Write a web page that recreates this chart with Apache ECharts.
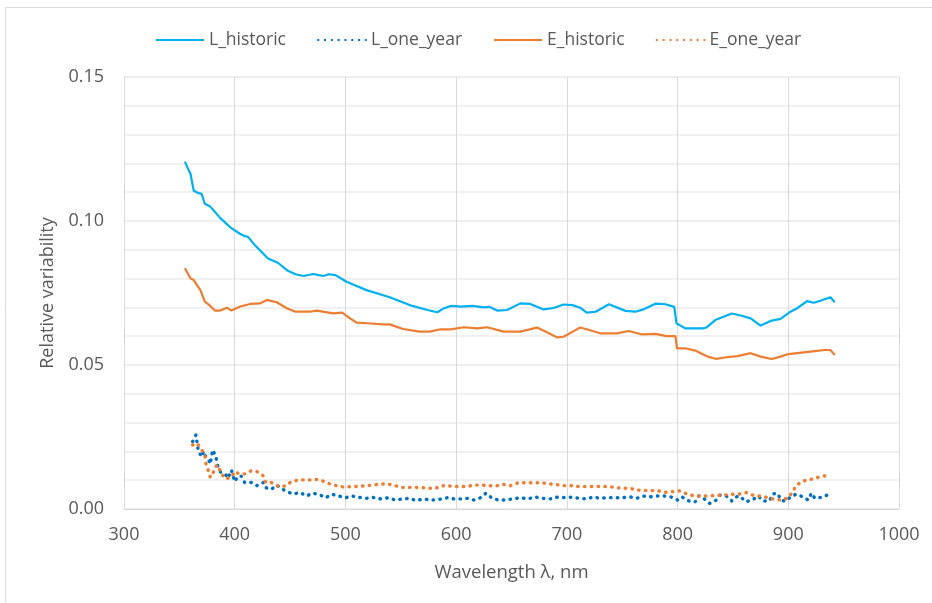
<!DOCTYPE html>
<html>
<head>
<meta charset="utf-8">
<script src="https://cdn.jsdelivr.net/npm/echarts@6/dist/echarts.min.js"></script>
<style>
  html, body { margin: 0; padding: 0; background: #fff; }
  #container { width: 932px; height: 603px; }
</style>
</head>
<body>
<div id="container"></div>
<script>
var seriesNames = ['L_historic', 'L_one_year', 'E_historic', 'E_one_year'];

// L_historic
var lHistWl = [355, 358, 360, 363, 367, 370, 373, 378, 387, 397, 405, 409, 412, 418, 425, 430, 439, 448, 455, 462, 471, 476, 480, 485, 491, 501, 519, 540, 558, 575, 583, 588, 595, 605, 615, 625, 630, 637, 646, 658, 667, 679, 688, 697, 705, 712, 718, 726, 738, 753, 762, 769, 780, 789, 797, 799, 807, 816, 823, 826, 834, 849, 857, 866, 875, 884, 893, 902, 908, 917, 923, 929, 938, 942];
var lHistVal = [0.1206, 0.118, 0.1165, 0.1105, 0.1097, 0.1095, 0.106, 0.105, 0.101, 0.0975, 0.0955, 0.0948, 0.0945, 0.0917, 0.089, 0.087, 0.0855, 0.0827, 0.0815, 0.0809, 0.0816, 0.0812, 0.0809, 0.0815, 0.0812, 0.0789, 0.076, 0.0735, 0.0708, 0.069, 0.0683, 0.0695, 0.0705, 0.0703, 0.0705, 0.070, 0.0702, 0.0689, 0.0691, 0.0714, 0.0712, 0.0693, 0.0698, 0.071, 0.0708, 0.0699, 0.0682, 0.0685, 0.0711, 0.0688, 0.0685, 0.0693, 0.0713, 0.0711, 0.0702, 0.0645, 0.0627, 0.0627, 0.0627, 0.063, 0.0656, 0.0679, 0.0672, 0.0662, 0.0637, 0.0653, 0.066, 0.0685, 0.0697, 0.0722, 0.0716, 0.0723, 0.0735, 0.0718];

// L_one_year
var lYearWl = [362, 365, 367, 370, 372, 374, 376, 378, 380, 381, 383, 384, 386, 388, 392, 394, 397, 398, 400, 403, 406, 409, 415, 420, 426, 428, 433, 438, 442, 447, 453, 459, 465, 470, 476, 482, 488, 494, 500, 506, 513, 519, 525, 532, 539, 545, 552, 558, 564, 570, 578, 584, 592, 598, 604, 610, 616, 622, 627, 632, 638, 644, 651, 658, 665, 671, 678, 685, 691, 697, 704, 711, 718, 724, 730, 737, 743, 750, 757, 763, 769, 775, 781, 788, 794, 800, 804, 810, 816, 819, 823, 829, 835, 838, 844, 849, 853, 856, 862, 868, 873, 877, 883, 886, 890, 894, 898, 903, 908, 913, 918, 921, 924, 929, 935];
var lYearVal = [0.0234, 0.0257, 0.0205, 0.0181, 0.020, 0.018, 0.0175, 0.0156, 0.0205, 0.021, 0.0184, 0.0158, 0.0135, 0.0124, 0.0118, 0.0107, 0.0135, 0.0139, 0.0095, 0.0114, 0.0114, 0.0092, 0.0092, 0.0081, 0.0092, 0.0074, 0.0068, 0.0083, 0.0072, 0.006, 0.0052, 0.0057, 0.0045, 0.0055, 0.0051, 0.0039, 0.0051, 0.0045, 0.0039, 0.0045, 0.004, 0.0037, 0.004, 0.0035, 0.0039, 0.0031, 0.0035, 0.0037, 0.0029, 0.0035, 0.0031, 0.0033, 0.0039, 0.0035, 0.0035, 0.0037, 0.0031, 0.0039, 0.0055, 0.0039, 0.0031, 0.0031, 0.0035, 0.0039, 0.0035, 0.0042, 0.0037, 0.0035, 0.0041, 0.004, 0.0041, 0.0037, 0.0035, 0.0042, 0.0037, 0.004, 0.0039, 0.0039, 0.0042, 0.0037, 0.0045, 0.0042, 0.0045, 0.0045, 0.0042, 0.0031, 0.0042, 0.0028, 0.0025, 0.0046, 0.0039, 0.0019, 0.0031, 0.0048, 0.0045, 0.0028, 0.0042, 0.0045, 0.0025, 0.0033, 0.0045, 0.0028, 0.0028, 0.0052, 0.0055, 0.0029, 0.0028, 0.0045, 0.0052, 0.0042, 0.0031, 0.0055, 0.0037, 0.004, 0.0048];

// E_historic
var eHistWl = [355, 358, 360, 363, 369, 373, 378, 382, 387, 393, 397, 405, 414, 423, 429, 438, 447, 455, 468, 474, 489, 497, 503, 510, 520, 534, 540, 552, 567, 576, 586, 595, 607, 619, 628, 643, 658, 673, 683, 691, 697, 705, 712, 718, 730, 745, 756, 768, 780, 790, 798, 799.5, 807, 816, 826, 835, 844, 854, 866, 875, 885, 893, 900, 914, 926, 933, 938, 942];
var eHistVal = [0.0836, 0.0815, 0.0801, 0.0795, 0.076, 0.072, 0.0705, 0.0689, 0.0689, 0.0699, 0.0689, 0.0703, 0.0712, 0.0714, 0.0726, 0.0718, 0.0697, 0.0685, 0.0685, 0.0689, 0.0679, 0.0682, 0.0665, 0.0647, 0.0645, 0.0641, 0.0641, 0.0625, 0.0616, 0.0616, 0.0624, 0.0624, 0.0631, 0.0627, 0.0631, 0.0616, 0.0616, 0.063, 0.0612, 0.0596, 0.0598, 0.0615, 0.063, 0.0624, 0.061, 0.061, 0.0618, 0.0606, 0.0608, 0.06, 0.06, 0.0558, 0.0558, 0.055, 0.0531, 0.0521, 0.0527, 0.0531, 0.0541, 0.0529, 0.0521, 0.0529, 0.0538, 0.0544, 0.0549, 0.0552, 0.0552, 0.0535];

// E_one_year
var eYearWl = [362, 366, 370, 373, 374, 376, 378, 381, 382, 384, 386, 388, 392, 394, 397, 400, 403, 406, 409, 415, 420, 426, 428, 433, 440, 446, 451, 458, 463, 469, 475, 481, 486, 493, 500, 505, 511, 518, 525, 531, 538, 545, 551, 558, 564, 570, 577, 584, 590, 597, 604, 610, 616, 623, 630, 636, 643, 649, 656, 663, 670, 677, 683, 690, 697, 704, 710, 716, 723, 730, 737, 743, 750, 757, 763, 770, 776, 783, 789, 795, 802, 809, 816, 822, 829, 835, 841, 849, 856, 862, 868, 874, 881, 888, 894, 900, 904, 907, 913, 919, 926, 933, 938];
var eYearVal = [0.0222, 0.0228, 0.0207, 0.0188, 0.0158, 0.0135, 0.011, 0.013, 0.0141, 0.0153, 0.0141, 0.0122, 0.0104, 0.0107, 0.011, 0.013, 0.0124, 0.0122, 0.0122, 0.0133, 0.013, 0.0115, 0.0092, 0.0092, 0.0078, 0.008, 0.0095, 0.0101, 0.0101, 0.0101, 0.0103, 0.0095, 0.0087, 0.008, 0.0075, 0.0078, 0.0078, 0.0081, 0.0083, 0.0087, 0.0087, 0.0081, 0.0075, 0.0075, 0.0075, 0.0074, 0.0072, 0.0074, 0.0083, 0.0078, 0.0078, 0.0078, 0.0083, 0.0083, 0.0081, 0.008, 0.0085, 0.0081, 0.0091, 0.0091, 0.0091, 0.0091, 0.0088, 0.0085, 0.0081, 0.0081, 0.0078, 0.0078, 0.0078, 0.0078, 0.0078, 0.0075, 0.0072, 0.0072, 0.0066, 0.0064, 0.0064, 0.0063, 0.0058, 0.006, 0.0063, 0.0051, 0.0045, 0.0045, 0.0045, 0.0048, 0.0048, 0.0051, 0.0052, 0.0057, 0.0048, 0.0045, 0.004, 0.0033, 0.0031, 0.0039, 0.006, 0.0081, 0.0097, 0.0101, 0.0109, 0.0115, 0.0122];

var xTicks = [300, 400, 500, 600, 700, 800, 900, 1000];
var yTicks = [0.00, 0.05, 0.10, 0.15];

function pairs(xs, ys) {
    var out = [];
    for (var i = 0; i < xs.length; i++) {
        out.push([xs[i], ys[i]]);
    }
    return out;
}

var textColor = '#595959';
var fontFam = '"Open Sans", "Noto Sans", sans-serif';

var myChart = echarts.init(document.getElementById('container'));

var option = {
    backgroundColor: '#fff',
    animation: false,
    textStyle: { fontFamily: fontFam },
    graphic: [{
        type: 'rect',
        shape: { x: 5.5, y: 7.5, width: 1000, height: 1000 },
        style: { fill: 'none', stroke: '#d9d9d9', lineWidth: 1 },
        silent: true
    }],
    legend: {
        top: 26,
        left: 150,
        itemWidth: 48,
        itemHeight: 2,
        itemGap: 31,
        itemStyle: { opacity: 0 },
        textStyle: { color: textColor, fontSize: 17.5, fontFamily: fontFam },
        data: seriesNames
    },
    grid: { left: 124, right: 33, top: 77, bottom: 94 },
    xAxis: {
        type: 'value',
        min: xTicks[0],
        max: xTicks[xTicks.length - 1],
        interval: 100,
        name: 'Wavelength \u03bb, nm',
        nameLocation: 'middle',
        nameGap: 54,
        nameTextStyle: { color: textColor, fontSize: 18.5 },
        axisLine: { show: true, lineStyle: { color: '#d9d9d9' } },
        axisTick: { show: false },
        axisLabel: {
            color: textColor, fontSize: 18, margin: 17,
            formatter: function (v) { return String(v); }
        },
        splitLine: { show: true, lineStyle: { color: '#d9d9d9', width: 1 } }
    },
    yAxis: {
        type: 'value',
        min: yTicks[0],
        max: yTicks[yTicks.length - 1],
        interval: 0.05,
        name: 'Relative variability',
        nameLocation: 'middle',
        nameGap: 67,
        nameTextStyle: { color: textColor, fontSize: 18 },
        axisLine: { show: false },
        axisTick: { show: false },
        axisLabel: {
            color: textColor, fontSize: 18, margin: 20,
            formatter: function (v) { return v.toFixed(2); }
        },
        splitLine: { show: true, lineStyle: { color: '#e8e8e8', width: 1.5 } },
        minorTick: { show: false, splitNumber: 5 },
        minorSplitLine: { show: true, lineStyle: { color: '#ececec', width: 1.5 } }
    },
    series: [{
        name: 'L_historic',
        type: 'line',
        symbol: 'none',
        color: '#00b0f0',
        lineStyle: { width: 2.2, color: '#00b0f0' },
        data: pairs(lHistWl, lHistVal)
    }, {
        name: 'L_one_year',
        type: 'line',
        symbol: 'none',
        color: '#0070c0',
        lineStyle: { width: 3.4, color: '#0070c0', type: [0.5, 6.3], cap: 'round' },
        data: pairs(lYearWl, lYearVal)
    }, {
        name: 'E_historic',
        type: 'line',
        symbol: 'none',
        color: '#ed7d31',
        lineStyle: { width: 2.2, color: '#ed7d31' },
        data: pairs(eHistWl, eHistVal)
    }, {
        name: 'E_one_year',
        type: 'line',
        symbol: 'none',
        color: '#ed7d31',
        lineStyle: { width: 3.4, color: '#ed7d31', type: [0.5, 6.3], cap: 'round' },
        data: pairs(eYearWl, eYearVal)
    }]
};

myChart.setOption(option);
</script>
</body>
</html>
